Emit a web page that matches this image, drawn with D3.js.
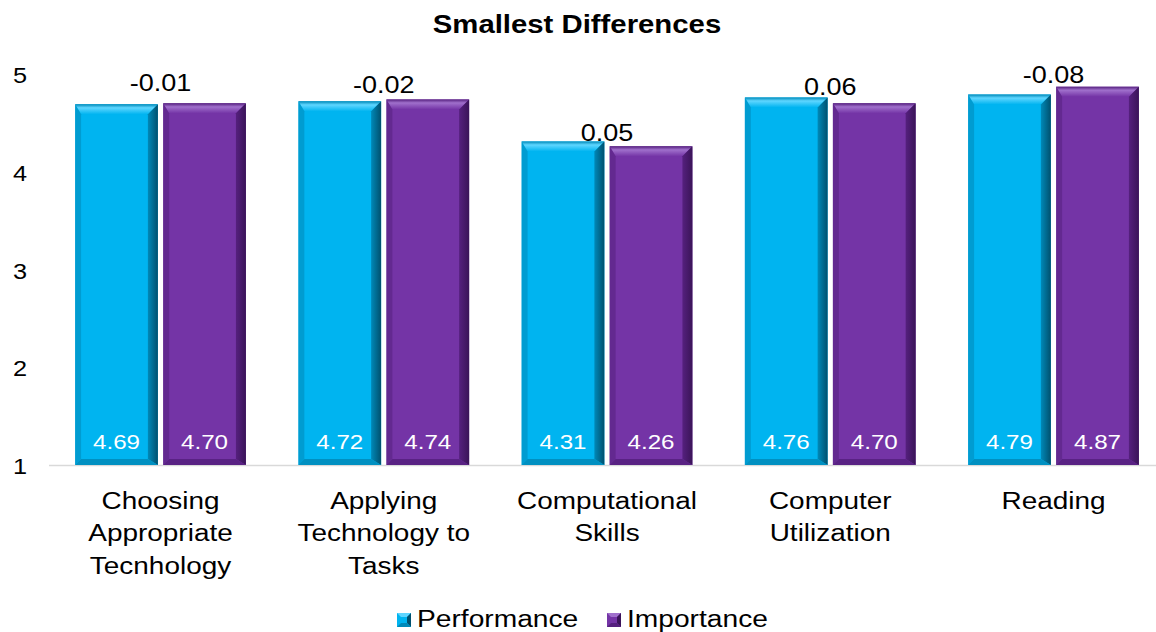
<!DOCTYPE html>
<html>
<head>
<meta charset="utf-8">
<script src="https://cdn.jsdelivr.net/npm/d3@7"></script>
<style>
  body { margin: 0; background: #fff; }
  svg { display: block; font-family: Arial, "Liberation Sans", sans-serif; }
</style>
</head>
<body>
<svg id="chart" width="1156" height="632"></svg>
<script>
const categories = [
  ["Choosing", "Appropriate", "Tecnhology"],
  ["Applying", "Technology to", "Tasks"],
  ["Computational", "Skills"],
  ["Computer", "Utilization"],
  ["Reading"]
];
const performance = [4.69, 4.72, 4.31, 4.76, 4.79];
const importance = [4.70, 4.74, 4.26, 4.70, 4.87];
const differences = ["-0.01", "-0.02", "0.05", "0.06", "-0.08"];
// where the difference labels sit, in axis units
const diffLabelAt = [4.92, 4.90, 4.41, 4.88, 5.00];
const seriesNames = ["Performance", "Importance"];
const yTicks = [1, 2, 3, 4, 5];

const width = 1156, height = 632;
const colors = ["#00B4F0", "#7434A6"];
const light = ["#5FD6FF", "#A070CC"];
const dark = ["#00506E", "#3A1458"];
const mid = ["#0089B8", "#55207E"];
const sx = 1.15; // text in the original is a little wider than tall

const svg = d3.select("#chart");

// place a text at (x, y) with the horizontal stretch
function label(parent, x, y, txt, size, anchor) {
  return parent.append("text")
    .attr("transform", `translate(${x},${y}) scale(${sx},1)`)
    .attr("text-anchor", anchor || "middle")
    .style("font-size", size + "px")
    .text(txt);
}

const x0 = d3.scaleBand().domain(d3.range(categories.length)).range([49, 1165]).paddingInner(0.235).paddingOuter(0.117);
const x1 = d3.scaleBand().domain([0, 1]).range([0, x0.bandwidth()]).paddingInner(0.06);
const y = d3.scaleLinear().domain([1, 5]).range([465, 74]);

label(svg, 577, 33, "Smallest Differences", 25.5).style("font-weight", "bold");

// y axis labels
const yAxisG = svg.append("g");
yTicks.forEach(t => label(yAxisG, 27, y(t) + 9, t, 22, "end"));

// baseline
svg.append("line")
  .attr("x1", 49).attr("x2", 1156)
  .attr("y1", y(1) + 0.5).attr("y2", y(1) + 0.5)
  .attr("stroke", "#d9d9d9").attr("stroke-width", 1.5);

const bars = [];
categories.forEach((c, i) => {
  [performance[i], importance[i]].forEach((v, s) => bars.push({ i, s, v }));
});

function bevelBar(g, d) {
  const bx = x0(d.i) + x1(d.s), bw = x1.bandwidth();
  const top = y(d.v), bot = y(1);
  const b = 10, bs = 6;
  g.append("rect").attr("x", bx).attr("y", top).attr("width", bw).attr("height", bot - top).attr("fill", colors[d.s]);
  // top facet
  g.append("polygon")
    .attr("points", [[bx, top], [bx + bw, top], [bx + bw - b, top + b], [bx + bs, top + b]].join(" "))
    .attr("fill", `url(#gtop${d.s})`);
  // left facet
  g.append("polygon")
    .attr("points", [[bx, top], [bx + bs, top + b], [bx + bs, bot - bs], [bx, bot]].join(" "))
    .attr("fill", mid[d.s]).attr("opacity", 0.55);
  // right facet
  g.append("polygon")
    .attr("points", [[bx + bw, top], [bx + bw, bot], [bx + bw - b, bot - bs], [bx + bw - b, top + b]].join(" "))
    .attr("fill", `url(#gright${d.s})`);
  // bottom facet
  g.append("polygon")
    .attr("points", [[bx, bot], [bx + bw, bot], [bx + bw - b, bot - bs], [bx + bs, bot - bs]].join(" "))
    .attr("fill", mid[d.s]).attr("opacity", 0.85);
}

const defs = svg.append("defs");
[0, 1].forEach(s => {
  const gt = defs.append("linearGradient").attr("id", "gtop" + s).attr("x1", 0).attr("y1", 0).attr("x2", 0).attr("y2", 1);
  gt.append("stop").attr("offset", 0).attr("stop-color", mid[s]);
  gt.append("stop").attr("offset", 0.35).attr("stop-color", light[s]);
  gt.append("stop").attr("offset", 1).attr("stop-color", colors[s]);
  const gr = defs.append("linearGradient").attr("id", "gright" + s).attr("x1", 0).attr("y1", 0).attr("x2", 1).attr("y2", 0);
  gr.append("stop").attr("offset", 0).attr("stop-color", mid[s]);
  gr.append("stop").attr("offset", 1).attr("stop-color", dark[s]);
});

const barG = svg.append("g");
bars.forEach(d => bevelBar(barG.append("g"), d));

// value labels inside bars
const valG = svg.append("g").attr("fill", "#fff");
bars.forEach(d => {
  label(valG, x0(d.i) + x1(d.s) + x1.bandwidth() / 2, 449, d.v.toFixed(2), 21).attr("fill", "#fff");
});

// difference labels
const diffG = svg.append("g");
differences.forEach((d, i) => label(diffG, x0(i) + x0.bandwidth() / 2, y(diffLabelAt[i]) + 9, d, 23.5));

// category labels
const catG = svg.append("g");
categories.forEach((lines, i) => {
  const t = catG.append("text")
    .attr("transform", `translate(${x0(i) + x0.bandwidth() / 2},0) scale(${sx},1)`)
    .attr("text-anchor", "middle")
    .style("font-size", "24.3px");
  lines.forEach((ln, k) => t.append("tspan").attr("x", 0).attr("y", 509 + k * 32.5).text(ln));
});

// legend
const legend = svg.append("g");
const legX = [397, 607];
seriesNames.forEach((n, s) => {
  const lx = legX[s], ly = 613, sz = 14;
  legend.append("rect").attr("x", lx).attr("y", ly).attr("width", sz).attr("height", sz).attr("fill", colors[s]);
  legend.append("polygon").attr("points", [[lx, ly], [lx + sz, ly], [lx + sz - 4, ly + 4], [lx + 4, ly + 4]].join(" ")).attr("fill", light[s]);
  legend.append("polygon").attr("points", [[lx + sz, ly], [lx + sz, ly + sz], [lx + sz - 4, ly + sz - 4], [lx + sz - 4, ly + 4]].join(" ")).attr("fill", dark[s]);
  legend.append("polygon").attr("points", [[lx, ly + sz], [lx + sz, ly + sz], [lx + sz - 4, ly + sz - 4], [lx + 4, ly + sz - 4]].join(" ")).attr("fill", mid[s]);
  label(legend, lx + 20, 627, n, 24.5, "start");
});
</script>
</body>
</html>
